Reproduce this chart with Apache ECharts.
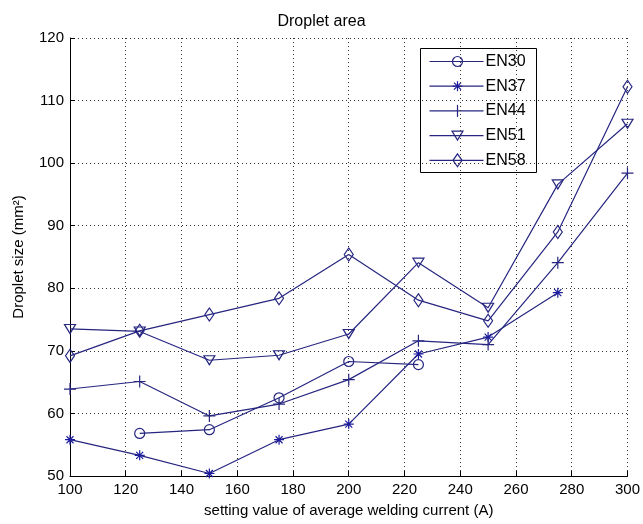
<!DOCTYPE html>
<html>
<head>
<meta charset="utf-8">
<script src="https://cdn.jsdelivr.net/npm/echarts@6/dist/echarts.min.js"></script>
<style>
  html, body { margin: 0; padding: 0; background: #fff; }
  #chart { width: 643px; height: 524px; }
</style>
</head>
<body>
<div id="chart"></div>
<script>
// Welding current settings (A)
const currents = [100, 125, 150, 175, 200, 225, 250, 275, 300];

// Droplet size (mm²) per electrode setting; null = not measured
const en30 = [null, 56.8, 57.4, 62.5, 68.3, 67.8, null, null, null];
const en37 = [55.8, 53.3, 50.4, 55.8, 58.3, 69.5, 72.2, 79.3, null];
const en44 = [63.9, 65.1, 59.6, 61.5, 65.4, 71.6, 71.0, 84.1, 98.4];
const en51 = [73.5, 73.1, 68.5, 69.3, 72.7, 84.1, 76.9, 96.6, 106.3];
const en58 = [69.2, 73.2, 75.8, 78.4, 85.4, 78.1, 74.8, 89.0, 112.2];

const seriesNames = ['EN30', 'EN37', 'EN44', 'EN51', 'EN58'];

const LINE = '#262680';
const MARK = '#1c1c9c';
const FONT = 'Liberation Sans, Arial, sans-serif';
const CLEAR = 'rgba(0,0,0,0)';

function pairs(values) {
  const out = [];
  values.forEach((v, i) => { if (v !== null) out.push([currents[i], v]); });
  return out;
}

// Plot markers (hollow, MATLAB-like)
const markers = [
  { symbol: 'circle', size: 10, rotate: 0 },
  { symbol: 'path://M5,0L5,10M0,5L10,5M1.5,1.5L8.5,8.5M8.5,1.5L1.5,8.5', size: 10, rotate: 0 },
  { symbol: 'path://M6,0L6,12M0,6L12,6', size: 12, rotate: 0 },
  { symbol: 'triangle', size: [11, 9], rotate: 180 },
  { symbol: 'diamond', size: [9, 13], rotate: 0 }
];

const allData = [en30, en37, en44, en51, en58];

const series = allData.map((vals, k) => ({
  name: seriesNames[k],
  type: 'line',
  data: pairs(vals),
  symbol: markers[k].symbol,
  symbolSize: markers[k].size,
  symbolRotate: markers[k].rotate,
  showAllSymbol: true,
  animation: false,
  lineStyle: { color: LINE, width: 1.2 },
  itemStyle: { color: CLEAR, borderColor: k === 1 ? MARK : LINE, borderWidth: 1.2 },
  emphasis: { disabled: true }
}));

// Legend box drawn as a graphic group: line sample, marker and label per series
function seg(x1, y1, x2, y2, color) {
  return { type: 'line', shape: { x1, y1, x2, y2 }, style: { stroke: color, lineWidth: 1.2 }, silent: true };
}
function legendMarker(k, cx, cy) {
  const st = { stroke: LINE, fill: CLEAR, lineWidth: 1.2 };
  switch (k) {
    case 0: return [{ type: 'circle', shape: { cx, cy, r: 5 }, style: st, silent: true }];
    case 1: return [
      seg(cx, cy - 5, cx, cy + 5, MARK), seg(cx - 5, cy, cx + 5, cy, MARK),
      seg(cx - 3.5, cy - 3.5, cx + 3.5, cy + 3.5, MARK), seg(cx + 3.5, cy - 3.5, cx - 3.5, cy + 3.5, MARK)
    ];
    case 2: return [seg(cx, cy - 6, cx, cy + 6, LINE)];
    case 3: return [{ type: 'polygon', shape: { points: [[cx - 5.5, cy - 4.5], [cx + 5.5, cy - 4.5], [cx, cy + 4.5]] }, style: st, silent: true }];
    default: return [{ type: 'polygon', shape: { points: [[cx, cy - 6.5], [cx + 4.5, cy], [cx, cy + 6.5], [cx - 4.5, cy]] }, style: st, silent: true }];
  }
}
const legendW = 116, legendH = 124, rowStart = 13, rowStep = 24.7;
const legendChildren = [
  { type: 'rect', shape: { x: 0, y: 0, width: legendW, height: legendH }, style: { fill: '#fff', stroke: '#000', lineWidth: 1 }, silent: true }
];
seriesNames.forEach((name, k) => {
  const cy = rowStart + k * rowStep;
  legendChildren.push(seg(9, cy, 63, cy, LINE));
  legendMarker(k, 37, cy).forEach(el => legendChildren.push(el));
  legendChildren.push({
    type: 'text', x: 65, y: cy, silent: true,
    style: { text: name, fill: '#000', font: '16px ' + FONT, textAlign: 'left', textVerticalAlign: 'middle', verticalAlign: 'middle' }
  });
});

const chart = echarts.init(document.getElementById('chart'), null, { renderer: 'canvas' });
chart.setOption({
  backgroundColor: '#fff',
  animation: false,
  title: {
    text: 'Droplet area',
    left: 'center',
    top: 9,
    textStyle: { fontFamily: FONT, fontSize: 16, fontWeight: 'normal', color: '#000' }
  },
  grid: { left: 70, right: 11, top: 38, bottom: 48 },
  legend: { show: false, data: seriesNames },
  graphic: [{ type: 'group', left: 420, top: 48, z: 100, children: legendChildren }],
  xAxis: {
    type: 'value',
    min: 100,
    max: 300,
    interval: 20,
    name: 'setting value of average welding current (A)',
    nameLocation: 'middle',
    nameGap: 27,
    nameTextStyle: { fontFamily: FONT, fontSize: 15, color: '#000' },
    axisLine: { lineStyle: { color: '#000', width: 1 } },
    axisTick: { inside: true, length: 5, lineStyle: { color: '#000' } },
    axisLabel: { fontFamily: FONT, fontSize: 15, color: '#000', margin: 6 },
    splitLine: { show: true, lineStyle: { color: '#333', type: [1, 3], width: 1 } }
  },
  yAxis: {
    type: 'value',
    min: 50,
    max: 120,
    interval: 10,
    name: 'Droplet size (mm²)',
    nameLocation: 'middle',
    nameGap: 44,
    nameTextStyle: { fontFamily: FONT, fontSize: 15, color: '#000' },
    axisLine: { show: true, lineStyle: { color: '#000', width: 1 } },
    axisTick: { show: true, inside: true, length: 5, lineStyle: { color: '#000' } },
    axisLabel: { fontFamily: FONT, fontSize: 15, color: '#000', margin: 6 },
    splitLine: { show: true, lineStyle: { color: '#333', type: [1, 3], width: 1 } }
  },
  series: series
});
</script>
</body>
</html>
